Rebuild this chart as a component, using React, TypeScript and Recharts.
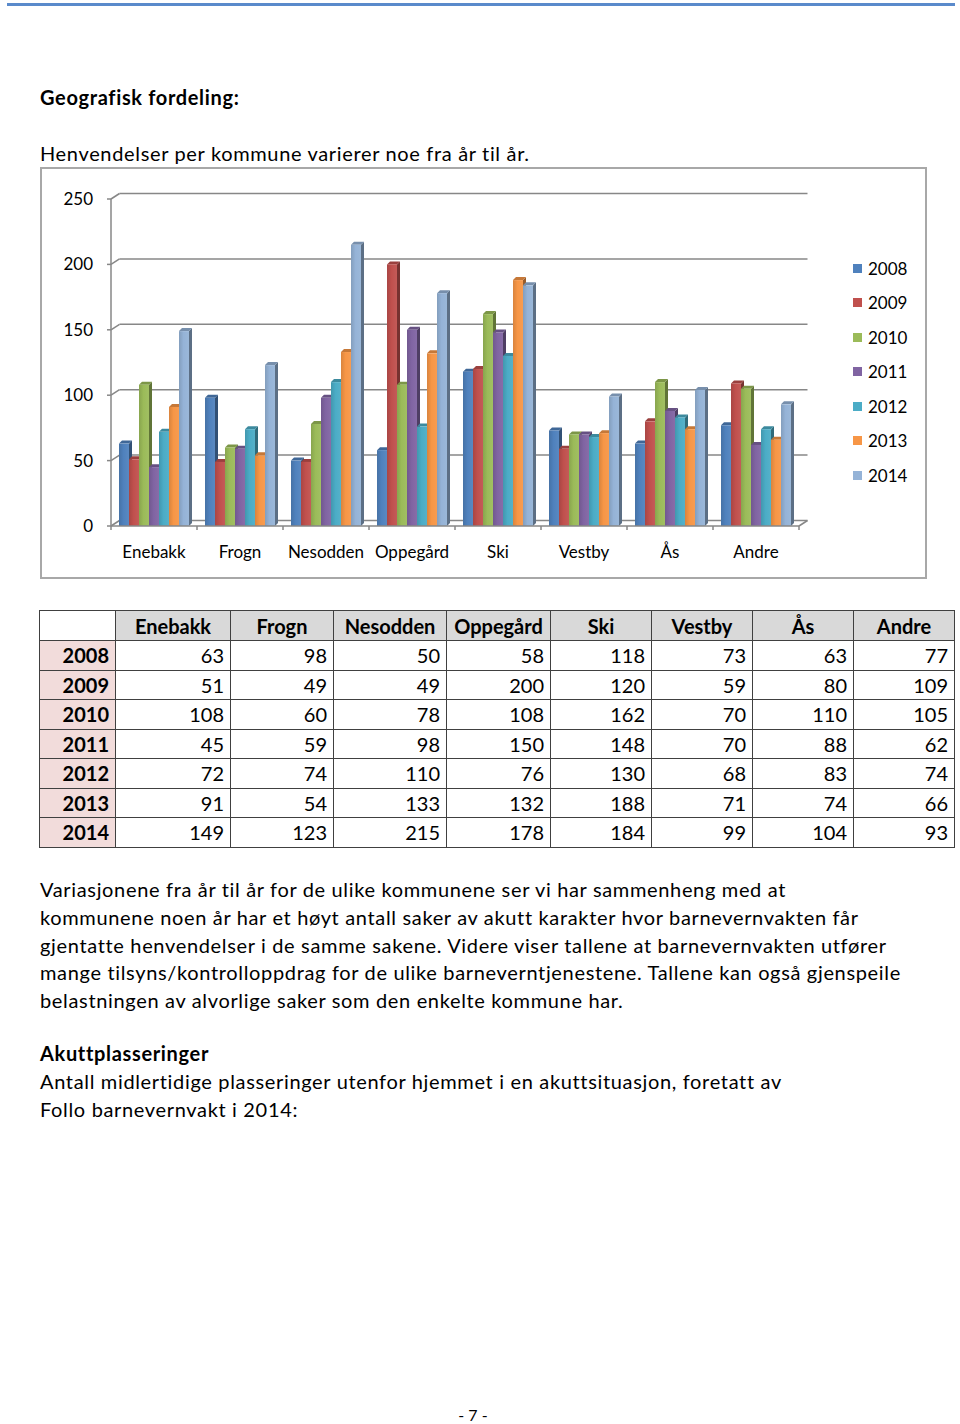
import { BarChart, Bar, XAxis, YAxis, CartesianGrid, Legend } from "recharts";

const kommuner = ["Enebakk", "Frogn", "Nesodden", "Oppegård", "Ski", "Vestby", "Ås", "Andre"];
const years = ["2008", "2009", "2010", "2011", "2012", "2013", "2014"];
const v2008 = [63, 98, 50, 58, 118, 73, 63, 77];
const v2009 = [51, 49, 49, 200, 120, 59, 80, 109];
const v2010 = [108, 60, 78, 108, 162, 70, 110, 105];
const v2011 = [45, 59, 98, 150, 148, 70, 88, 62];
const v2012 = [72, 74, 110, 76, 130, 68, 83, 74];
const v2013 = [91, 54, 133, 132, 188, 71, 74, 66];
const v2014 = [149, 123, 215, 178, 184, 99, 104, 93];
const yTicks = [0, 50, 100, 150, 200, 250];
const colors = ["#4F81BD", "#C0504D", "#9BBB59", "#8064A2", "#4BACC6", "#F79646", "#95B3D7"];

const seriesValues = [v2008, v2009, v2010, v2011, v2012, v2013, v2014];

const data = kommuner.map((k, i) => {
  const row: Record<string, string | number> = { kommune: k };
  years.forEach((y, s) => {
    row[y] = seriesValues[s][i];
  });
  return row;
});

const FONT = "Lato, 'Open Sans', sans-serif";
const GRID = "#878787";
const DX = 8.5; // 3d depth of back wall
const DY = 5.5;
const CHART_W = 883;
const CHART_H = 408;
const MARGIN = { top: 30, right: 126, bottom: 21, left: 0 };
const Y_W = 69;
const X_H = 30;
const PLOT_W = CHART_W - MARGIN.right - MARGIN.left - Y_W;
const PLOT_BOTTOM = CHART_H - MARGIN.bottom - X_H;
const BAND = PLOT_W / kommuner.length;

function shade(hex: string, amt: number) {
  const n = parseInt(hex.slice(1), 16);
  const f = (c: number) => Math.max(0, Math.min(255, Math.round(amt < 0 ? c * (1 + amt) : c + (255 - c) * amt)));
  const r = f((n >> 16) & 255);
  const g = f((n >> 8) & 255);
  const b = f(n & 255);
  return `rgb(${r},${g},${b})`;
}

const GridLine = (p: any) => {
  const { x1, y1, x2, y2 } = p;
  const floor = Math.abs(y1 - PLOT_BOTTOM) < 1;
  return (
    <g key={`grid-${p.index}-${y1}`}>
      <line x1={x1} y1={y1} x2={x1 + DX} y2={y1 - DY} stroke={GRID} strokeWidth={1.5} />
      <line x1={x1 + DX} y1={y1 - DY} x2={x2 + DX} y2={y2 - DY} stroke={GRID} strokeWidth={1.5} />
      {floor && <line x1={x2} y1={y2} x2={x2 + DX} y2={y2 - DY} stroke={GRID} strokeWidth={1.5} />}
    </g>
  );
};

const Bar3D = (p: any) => {
  const { x, y, width: w, height: h, fill } = p;
  if (!h || h <= 0) return null;
  const d = 3;
  return (
    <g>
      <polygon
        points={`${x + w},${y} ${x + w + d},${y - d} ${x + w + d},${y + h - d} ${x + w},${y + h}`}
        fill={shade(fill, -0.38)}
      />
      <polygon
        points={`${x},${y} ${x + d},${y - d} ${x + w + d},${y - d} ${x + w},${y}`}
        fill={shade(fill, -0.2)}
      />
      <rect x={x} y={y} width={w} height={h} fill={`url(#grad-${fill.slice(1)})`} />
    </g>
  );
};

const CatTick = (p: any) => {
  const { x, y, payload, index } = p;
  const half = BAND / 2;
  return (
    <g>
      <line x1={x - half} y1={y} x2={x - half} y2={y + 4} stroke={GRID} strokeWidth={1.5} />
      {index === kommuner.length - 1 && (
        <line x1={x + half} y1={y} x2={x + half} y2={y + 4} stroke={GRID} strokeWidth={1.5} />
      )}
      <text x={x} y={y + 25} textAnchor="middle" dominantBaseline="central" fontSize={17} fill="#000" fontFamily={FONT}>
        {payload.value}
      </text>
    </g>
  );
};

const LegendBox = (props: any) => (
  <div style={{ fontFamily: FONT, fontSize: 17, color: "#000" }}>
    {(props.payload || []).map((e: any) => (
      <div key={e.value} style={{ height: 34.5, display: "flex", alignItems: "center" }}>
        <span style={{ display: "inline-block", width: 9, height: 9, background: e.color, marginRight: 6 }} />
        <span>{e.value}</span>
      </div>
    ))}
  </div>
);

const para = [
  "Variasjonene fra år til år for de ulike kommunene ser vi har sammenheng med at",
  "kommunene noen år har et høyt antall saker av akutt karakter hvor barnevernvakten får",
  "gjentatte henvendelser i de samme sakene. Videre viser tallene at barnevernvakten utfører",
  "mange tilsyns/kontrolloppdrag for de ulike barneverntjenestene. Tallene kan også gjenspeile",
  "belastningen av alvorlige saker som den enkelte kommune har.",
];

const Line = ({ y, children, bold }: { y: number; children: any; bold?: boolean }) => (
  <div
    style={{
      position: "absolute",
      left: 40,
      top: y - 14,
      height: 28,
      lineHeight: "28px",
      fontSize: 20,
      letterSpacing: 0.66,
      fontWeight: bold ? 700 : 400,
      whiteSpace: "nowrap",
      color: "#000",
    }}
  >
    {children}
  </div>
);

const colWidths = [76, 115, 103, 113, 104, 101, 101, 101, 101];
const cellBorder = "1.5px solid #404040";

export default function App() {
  return (
    <div style={{ position: "absolute", left: 0, top: 0, width: 960, height: 1424, background: "#fff", fontFamily: FONT }}>
      <div style={{ position: "absolute", left: 7, top: 3, width: 948, height: 3, background: "#5a8acb" }} />

      <Line y={97} bold>Geografisk fordeling:</Line>
      <Line y={153}>Henvendelser per kommune varierer noe fra år til år.</Line>

      <div
        style={{
          position: "absolute",
          left: 40,
          top: 167,
          width: 887,
          height: 412,
          border: "2px solid #a8a8a8",
          boxSizing: "border-box",
        }}
      >
        <BarChart width={CHART_W} height={CHART_H} data={data} margin={MARGIN} barGap={0} barCategoryGap={8}>
          <defs>
            {colors.map((c) => (
              <linearGradient key={c} id={`grad-${c.slice(1)}`} x1="0" y1="0" x2="1" y2="0">
                <stop offset="0" stopColor={shade(c, -0.12)} />
                <stop offset="0.45" stopColor={c} />
                <stop offset="1" stopColor={shade(c, 0.06)} />
              </linearGradient>
            ))}
          </defs>
          <CartesianGrid vertical={false} horizontal={GridLine} />
          <XAxis
            dataKey="kommune"
            height={X_H}
            tickSize={0}
            tickMargin={0}
            tickLine={false}
            axisLine={{ stroke: GRID, strokeWidth: 1.5 }}
            tick={CatTick}
            interval={0}
          />
          <YAxis
            width={Y_W}
            domain={[0, 250]}
            ticks={yTicks}
            tickSize={4}
            tickMargin={14}
            axisLine={{ stroke: GRID, strokeWidth: 1.5 }}
            tickLine={{ stroke: GRID, strokeWidth: 1.5 }}
            tick={{ fontSize: 17, fill: "#000", fontFamily: FONT }}
          />
          <Legend
            layout="vertical"
            align="center"
            verticalAlign="middle"
            content={LegendBox}
            wrapperStyle={{ left: 811, top: 82, width: 70 }}
          />
          {years.map((y, s) => (
            <Bar key={y} dataKey={y} name={y} fill={colors[s]} shape={Bar3D} isAnimationActive={false} />
          ))}
        </BarChart>
      </div>

      <table
        style={{
          position: "absolute",
          left: 39,
          top: 610,
          width: 916,
          borderCollapse: "collapse",
          tableLayout: "fixed",
          fontSize: 20,
          color: "#000",
        }}
      >
        <colgroup>
          {colWidths.map((w, i) => (
            <col key={i} style={{ width: w }} />
          ))}
        </colgroup>
        <tbody>
          <tr style={{ height: 30 }}>
            <td style={{ border: cellBorder, background: "#fff" }} />
            {kommuner.map((k) => (
              <td key={k} style={{ border: cellBorder, background: "#d9d9d9", fontWeight: 700, textAlign: "center", padding: 0 }}>
                {k}
              </td>
            ))}
          </tr>
          {years.map((y, s) => (
            <tr key={y} style={{ height: 29.5 }}>
              <td style={{ border: cellBorder, background: "#f2dcdb", fontWeight: 700, textAlign: "right", padding: "0 6px 0 0" }}>
                {y}
              </td>
              {seriesValues[s].map((v, i) => (
                <td key={i} style={{ border: cellBorder, textAlign: "right", padding: "0 6px 0 0" }}>
                  {v}
                </td>
              ))}
            </tr>
          ))}
        </tbody>
      </table>

      {para.map((t, i) => (
        <Line key={i} y={889 + i * 27.8}>
          {t}
        </Line>
      ))}
      <Line y={1053} bold>Akuttplasseringer</Line>
      <Line y={1081}>Antall midlertidige plasseringer utenfor hjemmet i en akuttsituasjon, foretatt av</Line>
      <Line y={1109}>Follo barnevernvakt i 2014:</Line>

      <div style={{ position: "absolute", left: 0, width: 946, top: 1405, lineHeight: "20px", fontSize: 16, textAlign: "center", color: "#000" }}>
        - 7 -
      </div>
    </div>
  );
}
